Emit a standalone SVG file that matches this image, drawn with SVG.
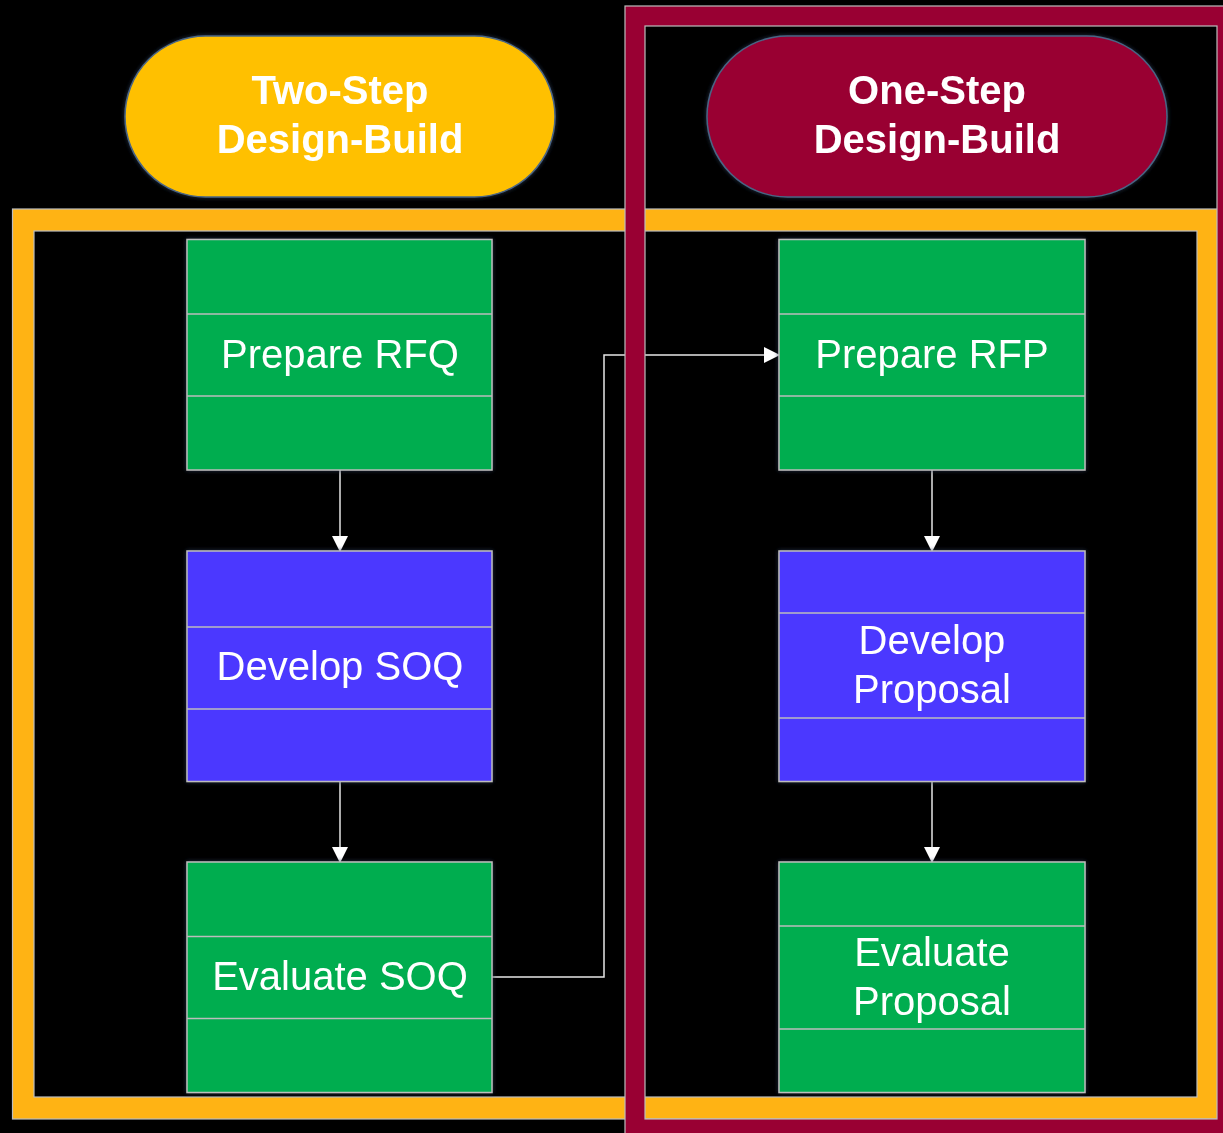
<svg xmlns="http://www.w3.org/2000/svg" width="1223" height="1133" viewBox="0 0 1223 1133">
  <style>
    .frame-edge { fill: none; stroke: #bdbdbd; stroke-width: 1.2; }
    .box { stroke: #bdbdbd; stroke-width: 1.5; }
    .div { stroke: #bdbdbd; stroke-width: 1.5; }
    .green { fill: #00ad4f; }
    .blue { fill: #4b38ff; }
    .lbl { font-family: "Liberation Sans", Arial, sans-serif; font-size: 40px; fill: #ffffff; text-anchor: middle; }
    .title { font-family: "Liberation Sans", Arial, sans-serif; font-size: 40px; font-weight: bold; fill: #ffffff; text-anchor: middle; }
    .conn { fill: none; stroke: #e6e6e6; stroke-width: 1.5; }
  </style>
  <defs>
    <filter id="glow" x="-10%" y="-10%" width="120%" height="120%">
      <feGaussianBlur in="SourceAlpha" stdDeviation="3"/>
      <feFlood flood-color="#2a3a55" flood-opacity="0.8"/>
      <feComposite operator="in" in2="SourceAlpha"/>
      <feMorphology operator="dilate" radius="0"/>
      <feGaussianBlur stdDeviation="2"/>
      <feMerge><feMergeNode/><feMergeNode in="SourceGraphic"/></feMerge>
    </filter>
    <marker id="arr" viewBox="0 0 16 16" refX="15" refY="8" markerWidth="16" markerHeight="16" markerUnits="userSpaceOnUse" orient="auto">
      <path d="M0,0 L16,8 L0,16 Z" fill="#ffffff"/>
    </marker>
  </defs>
  <rect x="0" y="0" width="1223" height="1133" fill="#000000"/>

  <!-- Orange frame (Two-Step group) -->
  <g id="frame-two-step">
    <path fill="#ffb314" fill-rule="evenodd" d="M12.5,209 H1218 V1119 H12.5 Z M34,231 V1097 H1197 V231 Z"/>
    <rect class="frame-edge" x="12.5" y="209" width="1205.5" height="910"/>
    <rect class="frame-edge" x="34" y="231" width="1163" height="866"/>
  </g>

  <!-- Connectors -->
  <g id="connectors">
    <line class="conn" x1="340" y1="470" x2="340" y2="551" marker-end="url(#arr)"/>
    <line class="conn" x1="340" y1="781" x2="340" y2="862" marker-end="url(#arr)"/>
    <line class="conn" x1="932" y1="470" x2="932" y2="551" marker-end="url(#arr)"/>
    <line class="conn" x1="932" y1="781" x2="932" y2="862" marker-end="url(#arr)"/>
    <polyline class="conn" points="492,977 604,977 604,355 779,355" marker-end="url(#arr)"/>
  </g>

  <!-- Maroon frame (One-Step group) -->
  <g id="frame-one-step">
    <path fill="#990033" fill-rule="evenodd" d="M625,6 H1240 V1140 H625 Z M645,26 V1119 H1217 V26 Z"/>
    <rect class="frame-edge" x="625" y="6" width="615" height="1134"/>
    <rect class="frame-edge" x="645" y="26" width="572" height="1093"/>
  </g>

  <!-- Titles -->
  <g id="title-two-step" filter="url(#glow)">
    <rect x="125" y="36" width="430" height="161" rx="80.5" fill="#ffc000" stroke="#4a6585" stroke-width="1.5"/>
    <text class="title" x="340" y="104">Two-Step</text>
    <text class="title" x="340" y="153">Design-Build</text>
  </g>
  <g id="title-one-step" filter="url(#glow)">
    <rect x="707" y="36" width="460" height="161" rx="80.5" fill="#990033" stroke="#4a6585" stroke-width="1.5"/>
    <text class="title" x="937" y="104">One-Step</text>
    <text class="title" x="937" y="153">Design-Build</text>
  </g>

  <!-- Left column nodes -->
  <g id="prepare-rfq" filter="url(#glow)">
    <rect class="box green" x="187" y="239.5" width="305" height="230.5"/>
    <line class="div" x1="187" y1="314" x2="492" y2="314"/>
    <line class="div" x1="187" y1="396" x2="492" y2="396"/>
    <text class="lbl" x="340" y="368">Prepare RFQ</text>
  </g>
  <g id="develop-soq" filter="url(#glow)">
    <rect class="box blue" x="187" y="551" width="305" height="230.5"/>
    <line class="div" x1="187" y1="627" x2="492" y2="627"/>
    <line class="div" x1="187" y1="709" x2="492" y2="709"/>
    <text class="lbl" x="340" y="680">Develop SOQ</text>
  </g>
  <g id="evaluate-soq" filter="url(#glow)">
    <rect class="box green" x="187" y="862" width="305" height="230.5"/>
    <line class="div" x1="187" y1="936.5" x2="492" y2="936.5"/>
    <line class="div" x1="187" y1="1018.5" x2="492" y2="1018.5"/>
    <text class="lbl" x="340" y="990">Evaluate SOQ</text>
  </g>

  <!-- Right column nodes -->
  <g id="prepare-rfp" filter="url(#glow)">
    <rect class="box green" x="779" y="239.5" width="306" height="230.5"/>
    <line class="div" x1="779" y1="314" x2="1085" y2="314"/>
    <line class="div" x1="779" y1="396" x2="1085" y2="396"/>
    <text class="lbl" x="932" y="368">Prepare RFP</text>
  </g>
  <g id="develop-proposal" filter="url(#glow)">
    <rect class="box blue" x="779" y="551" width="306" height="230.5"/>
    <line class="div" x1="779" y1="613" x2="1085" y2="613"/>
    <line class="div" x1="779" y1="718" x2="1085" y2="718"/>
    <text class="lbl" x="932" y="654">Develop</text>
    <text class="lbl" x="932" y="703">Proposal</text>
  </g>
  <g id="evaluate-proposal" filter="url(#glow)">
    <rect class="box green" x="779" y="862" width="306" height="230.5"/>
    <line class="div" x1="779" y1="926" x2="1085" y2="926"/>
    <line class="div" x1="779" y1="1029" x2="1085" y2="1029"/>
    <text class="lbl" x="932" y="966">Evaluate</text>
    <text class="lbl" x="932" y="1015">Proposal</text>
  </g>
</svg>
